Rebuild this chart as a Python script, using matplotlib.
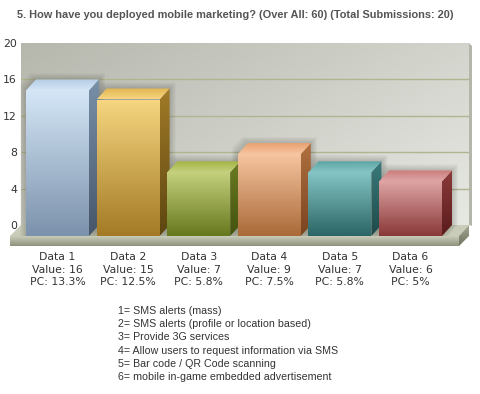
import numpy as np
import matplotlib
matplotlib.use("Agg")
import matplotlib.pyplot as plt
from matplotlib.patches import Polygon
from matplotlib.colors import to_rgb

title = "5. How have you deployed mobile marketing? (Over All: 60) (Total Submissions: 20)"
categories = ["Data 1", "Data 2", "Data 3", "Data 4", "Data 5", "Data 6"]
values = [16, 15, 7, 9, 7, 6]
pc_labels = ["13.3%", "12.5%", "5.8%", "7.5%", "5.8%", "5%"]
legend_lines = [
    "1= SMS alerts (mass)",
    "2= SMS alerts (profile or location based)",
    "3= Provide 3G services",
    "4= Allow users to request information via SMS",
    "5= Bar code / QR Code scanning",
    "6= mobile in-game embedded advertisement",
]
yticks = [0, 4, 8, 12, 16, 20]

# (front top, front bottom, top face, side top, side bottom)
bar_colors = [
    ("#d4e6f6", "#7c92ac", "#b4cce4", "#7890a8", "#46566a"),
    ("#f6d680", "#a47a26", "#e2b550", "#a07a28", "#5e4610"),
    ("#c4d07c", "#66781e", "#a4b444", "#6a7c22", "#44520e"),
    ("#f6c4a0", "#aa6a38", "#eaa272", "#b07040", "#7a4420"),
    ("#84c4c4", "#2c6666", "#5ea4a4", "#3a7a7a", "#1e4a4a"),
    ("#dea4a4", "#8a3838", "#cc7c7c", "#8c3a3a", "#5a1c1c"),
]

W, H = 481, 394
fig = plt.figure(figsize=(W / 100, H / 100), dpi=100)
fig.patch.set_facecolor("white")

# axes = back wall, 21..469 px wide, value 0 at y=225 px, 20 at y=43 px
ax = fig.add_axes([21 / W, (H - 225) / H, 448 / W, 182 / H])
x_lo, x_hi = 0.341, 6.687
ax.set_xlim(x_lo, x_hi)
ax.set_ylim(0, 20)
px_x = (x_hi - x_lo) / 448
px_y = 20 / 182
dx = 10 * px_x
dy = 11 * px_y
bw = 0.892

def xp(p):
    return x_lo + (p - 21) * px_x

def yp(p):
    return (225 - p) * px_y

def grad(verts, c_top, c_bot, z):
    verts = np.asarray(verts)
    x0, x1 = verts[:, 0].min(), verts[:, 0].max()
    y0, y1 = verts[:, 1].min(), verts[:, 1].max()
    t = np.linspace(0, 1, 64)
    a, b = np.array(to_rgb(c_top)), np.array(to_rgb(c_bot))
    img = (a[None, :] * (1 - t[:, None]) + b[None, :] * t[:, None])[:, None, :]
    im = ax.imshow(img, extent=(x0, x1, y0, y1), origin="upper", aspect="auto",
                   interpolation="bilinear", zorder=z)
    clip = Polygon(verts, closed=True, transform=ax.transData)
    im.set_clip_path(clip)
    im.set_clip_box(fig.bbox)
    return im

# back wall gradient (darker top-left, lighter bottom-right)
gy, gx = np.mgrid[0:1:80j, 0:1:120j]
tt = (gx * 0.6 + gy * 0.4)[..., None]
c1, c2 = np.array(to_rgb("#b6b8ae")), np.array(to_rgb("#e6e8e2"))
wall = c1 * (1 - tt) + c2 * tt
ax.imshow(wall, extent=(x_lo, x_hi, 0, 20), origin="upper", aspect="auto", zorder=0)
# wall right edge
ax.add_patch(Polygon([(x_hi, 20), (xp(472), yp(46)), (xp(472), yp(226)), (x_hi, 0)],
                     closed=True, facecolor="#b4b6aa", edgecolor="none", clip_on=False, zorder=0))

ax.set_yticks(yticks)
ax.set_yticklabels([str(v) for v in yticks], fontsize=7.8, color="#333333", family="DejaVu Sans")
ax.tick_params(axis="y", length=0, pad=3)
ax.set_xticks([])
ax.set_axisbelow(True)
ax.grid(axis="y", color="#b0b490", linewidth=1)
gl = ax.get_ygridlines()
gl[0].set_visible(False)
gl[-1].set_visible(False)
for s in ax.spines.values():
    s.set_visible(False)

# floor slab
ax.add_patch(Polygon([(xp(21), 0), (xp(469), 0), (xp(459), -dy), (xp(10), -dy)],
                     closed=True, facecolor="#c8ccb8", edgecolor="none", clip_on=False, zorder=1))
grad([(xp(10), -dy), (xp(459), -dy), (xp(459), yp(246)), (xp(10), yp(246))],
     "#c8ccb8", "#8e927c", 1)
grad([(xp(459), -dy), (xp(469), 0), (xp(469), yp(236)), (xp(459), yp(246))],
     "#a4a894", "#70745e", 1)

# bars
for i, v in enumerate(values):
    xc = i + 1
    x0, x1 = xc - bw / 2, xc + bw / 2
    f0, f1 = x0 - dx, x1 - dx
    ft, fb, tc, st, sb = bar_colors[i]
    # soft shadow
    for k in range(1, 6):
        e = k * 1.2
        ax.add_patch(Polygon([(f0 - e * px_x, -dy), (f0 - e * px_x, v - dy + e * px_y),
                              (x0 - e * px_x, v + e * px_y), (x1 + e * px_x, v + e * px_y),
                              (x1 + e * px_x, 0), (f1 + e * px_x, -dy)],
                             closed=True, facecolor="#303028", alpha=0.045, edgecolor="none",
                             clip_on=False, zorder=2))
    grad([(f0, -dy), (f1, -dy), (f1, v - dy), (f0, v - dy)], ft, fb, 3)
    grad([(f1, -dy), (f1, v - dy), (x1, v), (x1, 0)], st, sb, 3)
    grad([(f0, v - dy), (f1, v - dy), (x1, v), (x0, v)], tc, ft, 3)
    ax.text(xc - dx, yp(252), f"{categories[i]}\nValue: {v}\nPC: {pc_labels[i]}",
            ha="center", va="top", fontsize=7.8, color="#333333", family="DejaVu Sans",
            linespacing=1.32, clip_on=False)

fig.text(235 / W, 1 - 15 / H, title, ha="center", va="center", fontsize=7.9,
         fontweight="bold", color="#555555", family="Liberation Sans")

for k, line in enumerate(legend_lines):
    fig.text(118 / W, 1 - (311 + 13.2 * k) / H, line, ha="left", va="center",
             fontsize=7.7, color="#333333", family="Liberation Sans")

fig.savefig("out.png", dpi=100)
